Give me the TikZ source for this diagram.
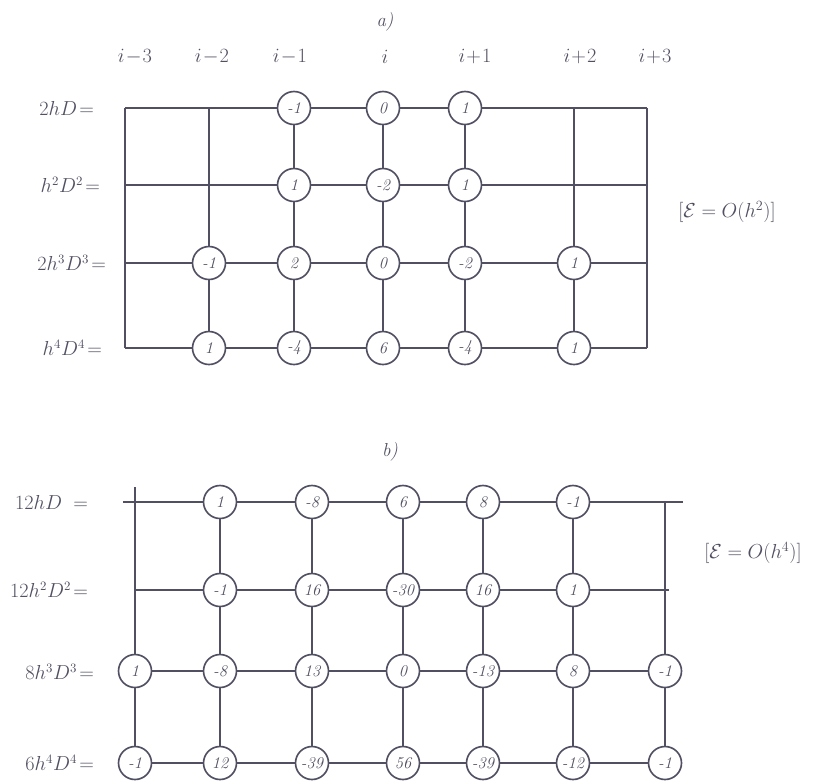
\documentclass[tikz,border=0pt]{standalone}
\usepackage{tikz}
\usepackage{amsmath}
\definecolor{ink}{RGB}{80,80,98}

\begin{document}
\begin{tikzpicture}[
  x=0.03cm, y=-0.03cm,
  grid/.style={draw=ink, line width=1.4pt},
  num/.style={circle, draw=ink, line width=1.4pt, fill=white, minimum size=0.99cm,
              inner sep=0pt, text=ink, font=\fontsize{14}{16}\selectfont\itshape},
  lbl/.style={anchor=east, text=ink, font=\fontsize{16}{18}\selectfont},
  col/.style={text=ink, font=\fontsize{16}{18}\selectfont},
  err/.style={text=ink, font=\LARGE}
]
\useasboundingbox (0,0) rectangle (821,782);

% a) grid points
\foreach \x [count=\c] in {125,209,294,383,465,574,647}
  \foreach \y [count=\r] in {108,185,263,348}
    \coordinate (a\c\r) at (\x,\y);

\foreach \r in {1,...,4} \draw[grid] (a1\r) -- (a7\r);
\foreach \c in {1,...,7} \draw[grid] (a\c1) -- (a\c4);

\foreach \c/\r/\v in {3/1/-1, 4/1/0, 5/1/1,
                      3/2/1, 4/2/-2, 5/2/1,
                      2/3/-1, 3/3/2, 4/3/0, 5/3/-2, 6/3/1,
                      2/4/1, 3/4/-4, 4/4/6, 5/4/-4, 6/4/1}
  \node[num] (na\c\r) at (a\c\r) {\v};

\node[col] (tita) at (385,22) {\textit{a)}};
\node[col] (ia1) at (135,57) {$i\!-\!3$};
\node[col] (ia2) at (212,57) {$i\!-\!2$};
\node[col] (ia3) at (290,57) {$i\!-\!1$};
\node[col] (ia4) at (385,57) {$i$};
\node[col] (ia5) at (475,57) {$i\!+\!1$};
\node[col] (ia6) at (580,57) {$i\!+\!2$};
\node[col] (ia7) at (655,57) {$i\!+\!3$};

\node[lbl] (ra1) at (98,108) {$2hD\!=$};
\node[lbl] (ra2) at (104,185) {$h^2D^2\!=$};
\node[lbl] (ra3) at (110,263) {$2h^3D^3\!=$};
\node[lbl] (ra4) at (106,348) {$h^4D^4\!=$};

\node[err] (erra) at (727,212) {$[\mathcal{E}=O(h^2)]$};

% b) grid points
\foreach \x [count=\c] in {135,220,312,403,483,573,665}
  \foreach \y [count=\r] in {502,590,671,763}
    \coordinate (b\c\r) at (\x,\y);
\coordinate (bw) at (123,502);
\coordinate (be) at (683,502);
\coordinate (bn) at (135,487);
\coordinate (be2) at (669,590);

\draw[grid] (bw) -- (be);
\draw[grid] (b12) -- (be2);
\foreach \r in {3,4} \draw[grid] (b1\r) -- (b7\r);
\draw[grid] (bn) -- (b14);
\foreach \c in {2,...,7} \draw[grid] (b\c1) -- (b\c4);

\foreach \c/\r/\v in {2/1/1, 3/1/-8, 4/1/6, 5/1/8, 6/1/-1,
                      2/2/-1, 3/2/16, 4/2/-30, 5/2/16, 6/2/1,
                      1/3/1, 2/3/-8, 3/3/13, 4/3/0, 5/3/-13, 6/3/8, 7/3/-1,
                      1/4/-1, 2/4/12, 3/4/-39, 4/4/56, 5/4/-39, 6/4/-12, 7/4/-1}
  \node[num] (nb\c\r) at (b\c\r) {\v};

\node[col] (titb) at (390,452) {\textit{b)}};

\node[lbl] (rb1) at (92,502) {$12hD\;=$};
\node[lbl] (rb2) at (92,590) {$12h^2D^2\!=$};
\node[lbl] (rb3) at (98,672) {$8h^3D^3\!=$};
\node[lbl] (rb4) at (98,763) {$6h^4D^4\!=$};

\node[err] (errb) at (753,553) {$[\mathcal{E}=O(h^4)]$};
\end{tikzpicture}
\end{document}
